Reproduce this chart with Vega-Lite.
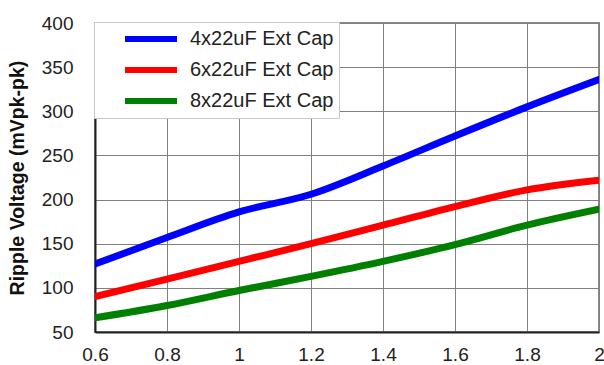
{
  "$schema": "https://vega.github.io/schema/vega-lite/v6.json",
  "width": 504,
  "height": 309,
  "autosize": {"type": "none"},
  "padding": {"left": 95, "top": 23, "right": 5, "bottom": 33},
  "background": "white",
  "config": {
    "font": "Liberation Sans",
    "view": {"stroke": "#8a8a8a", "strokeWidth": 2},
    "axis": {"grid": true, "gridColor": "#808080", "gridWidth": 1, "ticks": false, "domainColor": "#222222", "domainWidth": 2, "labelFont": "Liberation Sans", "labelFontSize": 19, "labelColor": "#222222"}
  },
  "data": {
    "values": [
      {"x": 0.6, "s": "4x22uF Ext Cap", "v": 127}, {"x": 0.8, "s": "4x22uF Ext Cap", "v": 157}, {"x": 1.0, "s": "4x22uF Ext Cap", "v": 186}, {"x": 1.2, "s": "4x22uF Ext Cap", "v": 206}, {"x": 1.4, "s": "4x22uF Ext Cap", "v": 238}, {"x": 1.6, "s": "4x22uF Ext Cap", "v": 272}, {"x": 1.8, "s": "4x22uF Ext Cap", "v": 305}, {"x": 2.0, "s": "4x22uF Ext Cap", "v": 336},
      {"x": 0.6, "s": "6x22uF Ext Cap", "v": 90}, {"x": 0.8, "s": "6x22uF Ext Cap", "v": 110}, {"x": 1.0, "s": "6x22uF Ext Cap", "v": 130}, {"x": 1.2, "s": "6x22uF Ext Cap", "v": 150}, {"x": 1.4, "s": "6x22uF Ext Cap", "v": 171}, {"x": 1.6, "s": "6x22uF Ext Cap", "v": 192}, {"x": 1.8, "s": "6x22uF Ext Cap", "v": 211}, {"x": 2.0, "s": "6x22uF Ext Cap", "v": 222},
      {"x": 0.6, "s": "8x22uF Ext Cap", "v": 66}, {"x": 0.8, "s": "8x22uF Ext Cap", "v": 80}, {"x": 1.0, "s": "8x22uF Ext Cap", "v": 97}, {"x": 1.2, "s": "8x22uF Ext Cap", "v": 113}, {"x": 1.4, "s": "8x22uF Ext Cap", "v": 130}, {"x": 1.6, "s": "8x22uF Ext Cap", "v": 149}, {"x": 1.8, "s": "8x22uF Ext Cap", "v": 171}, {"x": 2.0, "s": "8x22uF Ext Cap", "v": 189}
    ]
  },
  "mark": {"type": "line", "interpolate": "monotone", "strokeWidth": 7, "strokeCap": "round", "clip": true},
  "encoding": {
    "x": {"field": "x", "type": "quantitative", "scale": {"domain": [0.6, 2.0], "nice": false, "zero": false},
      "axis": {"title": null, "values": [0.6, 0.8, 1.0, 1.2, 1.4, 1.6, 1.8, 2.0], "format": "~g", "labelPadding": 13, "labelFlush": false}},
    "y": {"field": "v", "type": "quantitative", "scale": {"domain": [50, 400], "nice": false, "zero": false},
      "axis": {"title": "Ripple Voltage (mVpk-pk)", "titleFontSize": 19.5, "titleFontWeight": "bold", "titleColor": "#111111", "titlePadding": 14, "values": [50, 100, 150, 200, 250, 300, 350, 400], "labelPadding": 22, "labelFlush": false}},
    "color": {"field": "s", "type": "nominal",
      "scale": {"domain": ["4x22uF Ext Cap", "6x22uF Ext Cap", "8x22uF Ext Cap"], "range": ["#0000ff", "#ff0000", "#008000"]},
      "legend": {"title": null, "orient": "none", "legendX": -1, "legendY": -1, "fillColor": "white", "strokeColor": "#c8c8c8", "padding": 5,
        "symbolType": "stroke", "symbolSize": 2704, "symbolStrokeWidth": 6, "symbolOffset": 23, "labelOffset": 10,
        "labelFontSize": 20, "labelColor": "#222222", "labelFont": "Liberation Sans", "clipHeight": 24, "rowPadding": 7,
        "labelExpr": "datum.label + '\u00a0\u00a0\u00a0\u00a0'"}}
  }
}
